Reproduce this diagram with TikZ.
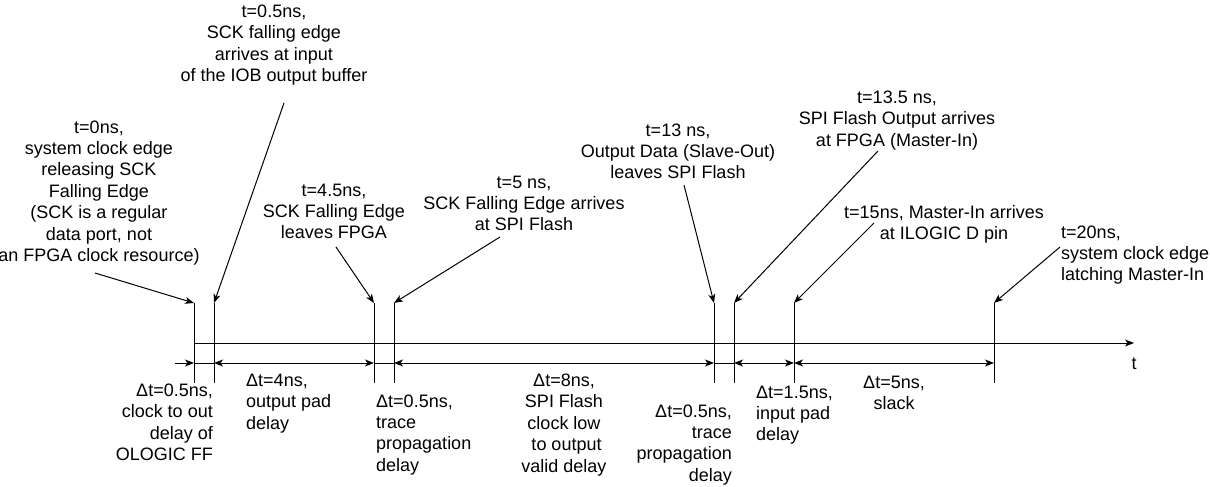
\documentclass[tikz,border=0pt]{standalone}
\usepackage{fontspec}
\setmainfont{Liberation Sans}
\usetikzlibrary{arrows.meta}
\tikzstyle{edge} = [line width=1pt]
\tikzstyle{arrow} = [line width=1pt,-{Stealth[length=9pt,width=7pt,inset=2.5pt]}]
\tikzstyle{dimarrow} = [line width=1pt,{Stealth[length=9pt,width=7pt,inset=2.5pt]}-{Stealth[length=9pt,width=7pt,inset=2.5pt]}]
\tikzstyle{lbl} = [inner sep=0,font=\fontsize{18}{21.4}\selectfont,anchor=base]
\begin{document}
\begin{tikzpicture}[x=1pt,y=-1pt]
\useasboundingbox (0,0) rectangle (1210,487);

% event ticks
\foreach \n/\x in {0/194,1/214,2/374,3/394,4/714,5/734,6/794,7/994}{
	\coordinate (top\n) at (\x,303);
	\coordinate (ax\n) at (\x,343);
	\coordinate (dm\n) at (\x,363);
	\coordinate (bot\n) at (\x,383);
	\draw[edge] (top\n)--(bot\n);
}

% time axis
\coordinate (tend) at (1134,343);
\draw[arrow] (ax0)--(tend);
\node[lbl] (tlbl) at (1134,369.5) {t};

% delay line
\coordinate (dstart) at (175,363);
\draw[arrow] (dstart)--(dm0);
\foreach \a/\b in {0/1,2/3,4/5}{
	\draw[edge] (dm\a)--(dm\b);}
\foreach \a/\b in {1/2,3/4,5/6,6/7}{
	\draw[dimarrow] (dm\a)--(dm\b);}

% events (placed at the baseline of the last line)
\node[lbl,align=center] (relsck) at (99,261.4) {t=0ns,\\system clock edge\\releasing SCK\\Falling Edge\\(SCK is a regular\\data port, not\\an FPGA clock resource)};
\node[lbl,align=center] (iobin) at (274,81.7) {t=0.5ns,\\SCK falling edge\\arrives at input\\of the IOB output buffer};
\node[lbl,align=center] (sckout) at (334,238.8) {t=4.5ns,\\SCK Falling Edge\\leaves FPGA};
\node[lbl,align=center] (sckflash) at (524,230.8) {t=5 ns,\\SCK Falling Edge arrives\\at SPI Flash};
\node[lbl,align=center] (doutflash) at (678,178.8) {t=13 ns,\\Output Data (Slave-Out)\\leaves SPI Flash};
\node[lbl,align=center] (mifpga) at (897,146.3) {t=13.5 ns,\\SPI Flash Output arrives\\at FPGA (Master-In)};
\node[lbl,align=center] (miilogic) at (944,239.4) {t=15ns, Master-In arrives\\at ILOGIC D pin};
\node[lbl,align=left,anchor=base west] (latch) at (1061,280.8) {t=20ns,\\system clock edge\\latching Master-In};

\coordinate (s0) at (95,273);
\coordinate (s1) at (284,103);
\coordinate (s2) at (336,247);
\coordinate (s3) at (500,237);
\coordinate (s4) at (684,185);
\coordinate (s5) at (878,151);
\coordinate (s6) at (874,223);
\coordinate (s7) at (1060,247);
\foreach \n in {0,...,7}{
	\draw[arrow] (s\n)--(top\n);}

% delays
\node[lbl,align=right,anchor=base east] (dclk) at (213,460.7) {Δt=0.5ns,\\clock to out\hspace*{0.28em}\\delay of\\OLOGIC FF};
\node[lbl,align=left,anchor=base west] (dopad) at (246,429.3) {Δt=4ns,\\output pad\\delay};
\node[lbl,align=left,anchor=base west] (dtrace) at (376,471.2) {Δt=0.5ns,\\trace\\propagation\\delay};
\node[lbl,align=center] (dflash) at (564,472.1) {Δt=8ns,\\SPI Flash\\clock low\hspace*{0.28em}\\\hspace*{0.28em}to output\\valid delay};
\node[lbl,align=right,anchor=base east] (dtraceb) at (732,481.2) {Δt=0.5ns,\\trace\\propagation\hspace*{0.28em}\\delay};
\node[lbl,align=left,anchor=base west] (dipad) at (756,440.8) {Δt=1.5ns,\\input pad\\delay};
\node[lbl,align=center] (dslack) at (894,409.9) {Δt=5ns,\\slack};
\end{tikzpicture}
\end{document}
